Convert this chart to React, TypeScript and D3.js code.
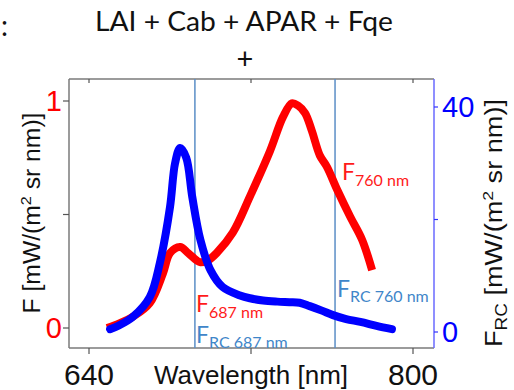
import React from "react";
import * as d3 from "d3";

const redWl = [648.9, 655, 661.7, 670, 676.5, 680, 685, 689, 694.8, 699, 703, 711, 719.5, 729.4, 735.8, 740.2, 743.2, 746.7, 750, 754, 757.5, 762.5, 769, 774.8, 779.8];
const redF = [0, 0.02, 0.05, 0.11, 0.24, 0.33, 0.357, 0.33, 0.29, 0.3, 0.33, 0.42, 0.58, 0.78, 0.93, 0.99, 0.98, 0.947, 0.87, 0.76, 0.71, 0.61, 0.49, 0.39, 0.255];
const blueWl = [650.4, 655, 661.7, 670, 675, 680, 682.5, 685, 688, 691, 695, 700, 706, 714.6, 719.5, 726, 733, 739, 744, 749, 755, 760.5, 767, 774, 782, 789.6];
const blueF = [0.5, 1.2, 2.7, 6.2, 12.3, 22.2, 30, 32.7, 31, 24, 16.4, 11, 8, 6.5, 6.0, 5.6, 5.4, 5.3, 5.2, 4.6, 3.8, 3.0, 2.3, 1.8, 1.1, 0.5];
const markers = [692.3, 761.5];
const xTicks = [640, 720, 800];
const xTickLabels = ["640", "", "800"];
const leftTicks = [0, 0.5, 1];
const leftTickLabels = ["0", "", "1"];
const rightTicks = [0, 20, 40];
const rightTickLabels = ["0", "", "40"];

const W = 514, H = 390;
const L = 69, R = 434, T = 79, B = 348;

export default function App() {
  const x = d3.scaleLinear().domain([640, 800]).range([89, 413]);
  const yL = d3.scaleLinear().domain([0, 1]).range([328, 101]);
  const yR = d3.scaleLinear().domain([0, 40]).range([332, 107]);

  const redLine = d3.line<number>().x((_, i) => x(redWl[i])).y((d) => yL(d)).curve(d3.curveCatmullRom);
  const blueLine = d3.line<number>().x((_, i) => x(blueWl[i])).y((d) => yR(d)).curve(d3.curveCatmullRom);

  const axisFont = "'Liberation Sans', Arial, sans-serif";
  const annFont = "Lato, 'Open Sans', sans-serif";
  const steel = "#3f86c9";

  return (
    <svg width={W} height={H} viewBox={`0 0 ${W} ${H}`} style={{ position: "absolute", left: 0, top: 0, background: "#fff" }}>
      {/* title */}
      <text x={1} y={36} fontFamily={annFont} fontSize={28} fill="#111">:</text>
      <text x={244} y={31} textAnchor="middle" fontFamily={annFont} fontSize={26} textLength={298} lengthAdjust="spacingAndGlyphs" fill="#111">LAI + Cab + APAR + Fqe</text>
      <text x={245} y={69} textAnchor="middle" fontFamily={annFont} fontSize={29} fill="#111">+</text>

      {/* frame */}
      <line x1={L} x2={R} y1={T} y2={T} stroke="#7a7a7a" strokeWidth={1.5} />
      <line x1={L} x2={R} y1={B} y2={B} stroke="#7a7a7a" strokeWidth={1.5} />
      <line x1={L} x2={L} y1={T} y2={B} stroke="#7a7a7a" strokeWidth={1.5} />

      {/* x ticks */}
      {xTicks.map((t, i) => (
        <g key={"xt" + i}>
          <line x1={x(t)} x2={x(t)} y1={T} y2={T + 4} stroke="#555" strokeWidth={1.2} />
          <line x1={x(t)} x2={x(t)} y1={B} y2={B + 6} stroke="#555" strokeWidth={1.2} />
          <text x={x(t)} y={385} textAnchor="middle" fontFamily={axisFont} fontSize={30} fill="#111">{xTickLabels[i]}</text>
        </g>
      ))}
      <text x={251} y={384} textAnchor="middle" fontFamily={axisFont} fontSize={26} fill="#111">Wavelength [nm]</text>

      {/* left ticks */}
      {leftTicks.map((t, i) => (
        <g key={"lt" + i}>
          <line x1={L - 6} x2={L} y1={yL(t)} y2={yL(t)} stroke="#555" strokeWidth={1.2} />
          <text x={62} y={yL(t) + 10} textAnchor="end" fontFamily={axisFont} fontSize={29} fill="#ff0000">{leftTickLabels[i]}</text>
        </g>
      ))}
      <text transform={`translate(40,213) rotate(-90)`} textAnchor="middle" fontFamily={axisFont} fontSize={23} textLength={201} lengthAdjust="spacingAndGlyphs" fill="#111">
        F [mW/(m<tspan dy={-9} fontSize={15}>2</tspan><tspan dy={9}> sr nm)]</tspan>
      </text>

      {/* right axis */}
      <line x1={R} x2={R} y1={T} y2={B} stroke="#6a6aff" strokeWidth={1.5} />
      {rightTicks.map((t, i) => (
        <g key={"rt" + i}>
          <line x1={R} x2={R + 4} y1={yR(t)} y2={yR(t)} stroke="#3333ff" strokeWidth={1.2} />
          <text x={442} y={yR(t) + 10} textAnchor="start" fontFamily={axisFont} fontSize={29} fill="#0000ff">{rightTickLabels[i]}</text>
        </g>
      ))}
      <text transform={`translate(502,223) rotate(-90)`} textAnchor="middle" fontFamily={axisFont} fontSize={23} textLength={248} lengthAdjust="spacingAndGlyphs" fill="#111">
        F<tspan dy={5} fontSize={16}>RC</tspan><tspan dy={-5}> [mW/(m</tspan><tspan dy={-9} fontSize={15}>2</tspan><tspan dy={9}> sr nm)]</tspan>
      </text>

      {/* marker lines */}
      {markers.map((m, i) => (
        <line key={"m" + i} x1={x(m)} x2={x(m)} y1={T} y2={B} stroke="#5b8ec6" strokeWidth={1.5} />
      ))}

      {/* curves */}
      <path d={redLine(redF) || ""} fill="none" stroke="#ff0000" strokeWidth={8} strokeLinejoin="round" />
      <path d={blueLine(blueF) || ""} fill="none" stroke="#0000ff" strokeWidth={8} strokeLinejoin="round" strokeLinecap="round" />

      {/* annotations */}
      <text x={342} y={180} fontFamily={annFont} fontSize={23} fill="#ff1a1a">
        F<tspan dy={6} fontSize={16}>760 nm</tspan>
      </text>
      <text x={196} y={312} fontFamily={annFont} fontSize={23} fill="#ff1a1a">
        F<tspan dy={6} fontSize={16}>687 nm</tspan>
      </text>
      <text x={196} y={343} fontFamily={annFont} fontSize={23} fill={steel}>
        F<tspan dy={5} fontSize={16}>RC 687 nm</tspan>
      </text>
      <text x={337} y={297} fontFamily={annFont} fontSize={23} fill={steel}>
        F<tspan dy={5} fontSize={16}>RC 760 nm</tspan>
      </text>
    </svg>
  );
}
